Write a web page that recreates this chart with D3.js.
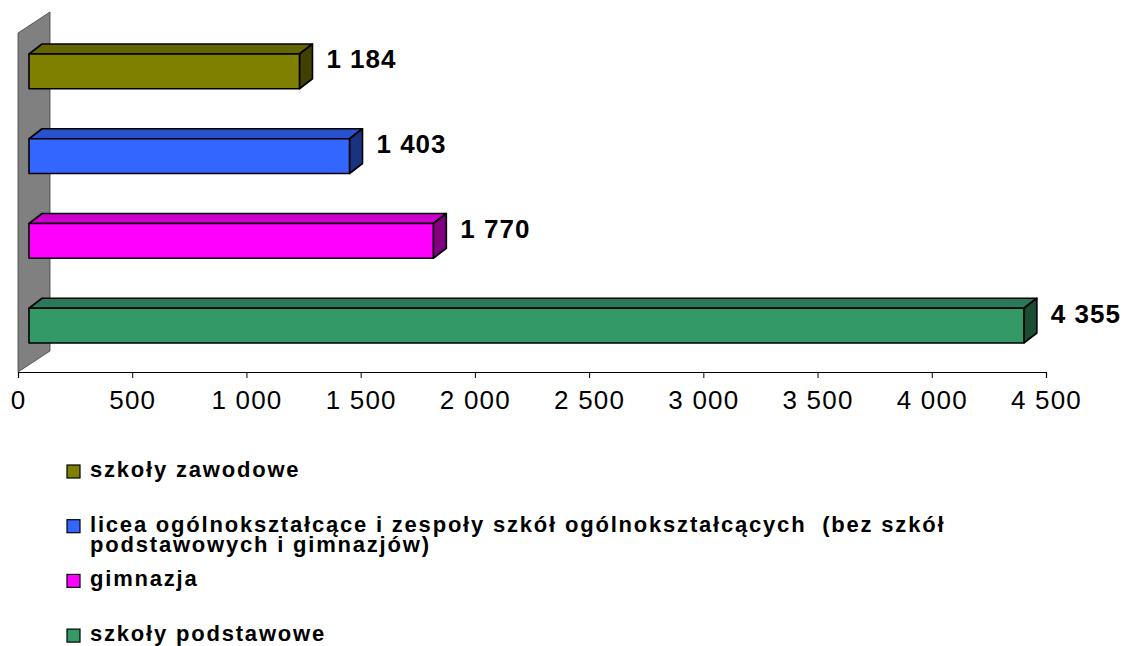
<!DOCTYPE html>
<html>
<head>
<meta charset="utf-8">
<script src="https://cdn.jsdelivr.net/npm/d3@7"></script>
<style>
  body { margin: 0; background: #fff; }
  svg { display: block; font-family: "Liberation Sans", Arial, sans-serif; }
</style>
</head>
<body>
<svg id="chart" width="1125" height="646"></svg>
<script>
// categories top to bottom, as in the chart
const categories = ["szkoły zawodowe", "licea", "gimnazja", "szkoły podstawowe"];
const values = [1184, 1403, 1770, 4355];
const valueLabels = ["1 184", "1 403", "1 770", "4 355"];
const frontColors = ["#808000", "#3366FF", "#FF00FF", "#339966"];
const topColors = ["#666600", "#2952CC", "#CC00CC", "#29795A"];
const sideColors = ["#404000", "#1A3380", "#800080", "#1A4D33"];
const legendLines = [
  ["szkoły zawodowe"],
  ["licea ogólnokształcące i zespoły szkół ogólnokształcących  (bez szkół", "podstawowych i gimnazjów)"],
  ["gimnazja"],
  ["szkoły podstawowe"]
];
const ticks = [0, 500, 1000, 1500, 2000, 2500, 3000, 3500, 4000, 4500];

const svg = d3.select("#chart");
const fmt = v => d3.format(",")(v).replace(/,/g, " ");

const x = d3.scaleLinear().domain([0, 4500]).range([18, 1046]);
const y = d3.scaleBand().domain(categories).range([33, 372])
    .paddingInner(0.59).paddingOuter(0.295);

// depth of the wall and position of bars inside that depth
const wallDepth = { dx: 32, dy: -21 };
const front = { dx: 11, dy: -4 };
const depth = { dx: 13, dy: -10 };

// back wall
const wx = x(0), wTop = y.range()[0], wBot = y.range()[1];
svg.append("polygon")
    .attr("points", [
      [wx, wTop], [wx + wallDepth.dx, wTop + wallDepth.dy],
      [wx + wallDepth.dx, wBot + wallDepth.dy], [wx, wBot]
    ].map(p => p.join(",")).join(" "))
    .attr("fill", "#808080")
    .attr("stroke", "#404040")
    .attr("stroke-width", 0.8);

// x axis
const axis = svg.append("g")
    .attr("transform", `translate(0,${wBot})`)
    .call(d3.axisBottom(x).tickValues(ticks).tickSize(6).tickPadding(13).tickFormat(fmt));
axis.select(".domain").attr("stroke", "#000").attr("stroke-width", 1.2);
axis.selectAll(".tick line").attr("stroke", "#000");
axis.selectAll(".tick text")
    .attr("font-size", "26px")
    .attr("letter-spacing", "1.2px")
    .attr("font-family", "Liberation Sans, Arial, sans-serif")
    .attr("fill", "#000");

// bars
const bars = svg.append("g");
categories.forEach((c, i) => {
  const x0 = x(0) + front.dx;
  const x1 = x(values[i]) + front.dx;
  const y0 = y(c) + front.dy;
  const h = y.bandwidth();
  const g = bars.append("g")
      .attr("stroke", "#000")
      .attr("stroke-width", 1.6)
      .attr("stroke-linejoin", "round");
  // top face
  g.append("polygon")
      .attr("points", [[x0, y0], [x0 + depth.dx, y0 + depth.dy], [x1 + depth.dx, y0 + depth.dy], [x1, y0]]
        .map(p => p.join(",")).join(" "))
      .attr("fill", topColors[i]);
  // side face
  g.append("polygon")
      .attr("points", [[x1, y0], [x1 + depth.dx, y0 + depth.dy], [x1 + depth.dx, y0 + h + depth.dy], [x1, y0 + h]]
        .map(p => p.join(",")).join(" "))
      .attr("fill", sideColors[i]);
  // front face
  g.append("rect")
      .attr("x", x0).attr("y", y0)
      .attr("width", x1 - x0).attr("height", h)
      .attr("fill", frontColors[i]);

  svg.append("text")
      .attr("x", x1 + 62)
      .attr("y", y0 + h / 2 - 3)
      .attr("text-anchor", "middle")
      .attr("font-size", "26px")
      .attr("font-weight", "bold")
      .attr("letter-spacing", "1px")
      .attr("fill", "#000")
      .text(valueLabels[i]);
});

// legend
const legend = svg.append("g");
legendLines.forEach((lines, i) => {
  const by = 477 + i * 54.7;
  legend.append("rect")
      .attr("x", 67).attr("y", by - 12)
      .attr("width", 13).attr("height", 13)
      .attr("fill", frontColors[i])
      .attr("stroke", "#000")
      .attr("stroke-width", 1.2);
  lines.forEach((t, j) => {
    legend.append("text")
        .attr("x", 90)
        .attr("y", by + j * 20)
        .attr("font-size", "22px")
        .attr("font-weight", "bold")
        .attr("letter-spacing", "1.8px")
        .attr("xml:space", "preserve")
        .style("white-space", "pre")
        .attr("fill", "#000")
        .text(t);
  });
});
</script>
</body>
</html>
